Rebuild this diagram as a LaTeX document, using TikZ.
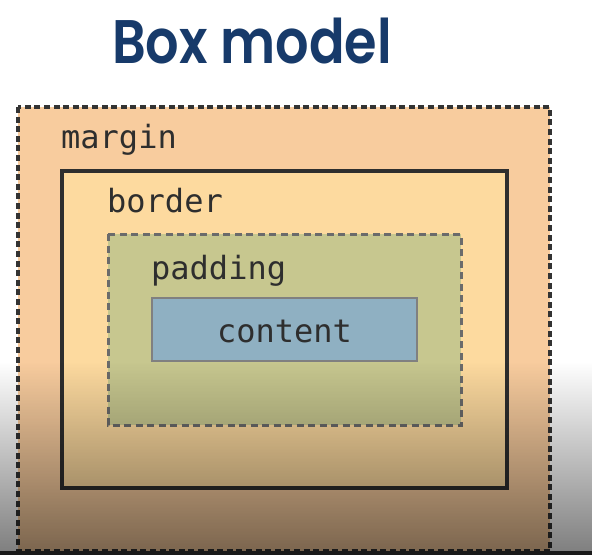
\documentclass[tikz,border=0pt]{standalone}
\usepackage{fontspec}
\setmainfont{Poppins}
\newfontfamily\titlefont{Poppins}[UprightFont={* SemiBold}]
\newfontfamily\codefont{DejaVu Sans Mono}
\usetikzlibrary{fadings}

\definecolor{titleblue}{HTML}{173A6A}
\definecolor{marginfill}{HTML}{F8CC9E}
\definecolor{borderfill}{HTML}{FDDA9F}
\definecolor{paddingfill}{HTML}{C7C78F}
\definecolor{contentfill}{HTML}{8FB0C2}
\definecolor{inktext}{HTML}{2E2E2E}

\tikzfading[name=darkenbottom, top color=transparent!100, bottom color=transparent!0]

\tikzset{
  marginline/.style={draw=black!80, line width=3.2pt, dash pattern=on 6pt off 3.6pt},
  borderline/.style={draw=black!82, line width=3.2pt},
  paddingline/.style={draw=black!58, line width=3pt, dash pattern=on 7pt off 4.5pt},
  contentline/.style={draw=black!50, line width=2.6pt},
  label/.style={font=\codefont\fontsize{32}{32}\selectfont, text=inktext, inner sep=0pt, anchor=base west},
}

\begin{document}
\begin{tikzpicture}[x=1pt, y=-1pt]
  \useasboundingbox (0,0) rectangle (592,555);
  \fill[white] (0,0) rectangle (592,555);

  % title
  \node[font=\titlefont\fontsize{61.5}{61.5}\selectfont, text=titleblue, inner sep=0pt, anchor=base,
        xscale=0.855]
    (title) at (252,63) {Box model};

  % nested boxes, outermost first
  \fill[marginfill] (18,107) rectangle (550,551);
  \fill[borderfill] (62,171) rectangle (507,488);
  \fill[paddingfill] (108,234) rectangle (461,425);
  \fill[contentfill] (152,298) rectangle (417,361);

  \draw[contentline] (152,298) rectangle (417,361);
  \draw[paddingline] (108,234) rectangle (461,425);
  \draw[borderline] (62,171) rectangle (507,488);
  \draw[marginline] (18,107) rectangle (550,551);

  % labels
  \node[label] (marginlabel)  at (61,148)  {margin};
  \node[label] (borderlabel)  at (107,212) {border};
  \node[label] (paddinglabel) at (151,279) {padding};
  \node[label, anchor=base] (contentlabel) at (284.5,342) {content};

  % darkening towards the bottom edge
  \fill[black, fill opacity=0.5, path fading=darkenbottom] (0,362) rectangle (592,551);
  \fill[black!90] (0,551) rectangle (592,555);
\end{tikzpicture}
\end{document}
